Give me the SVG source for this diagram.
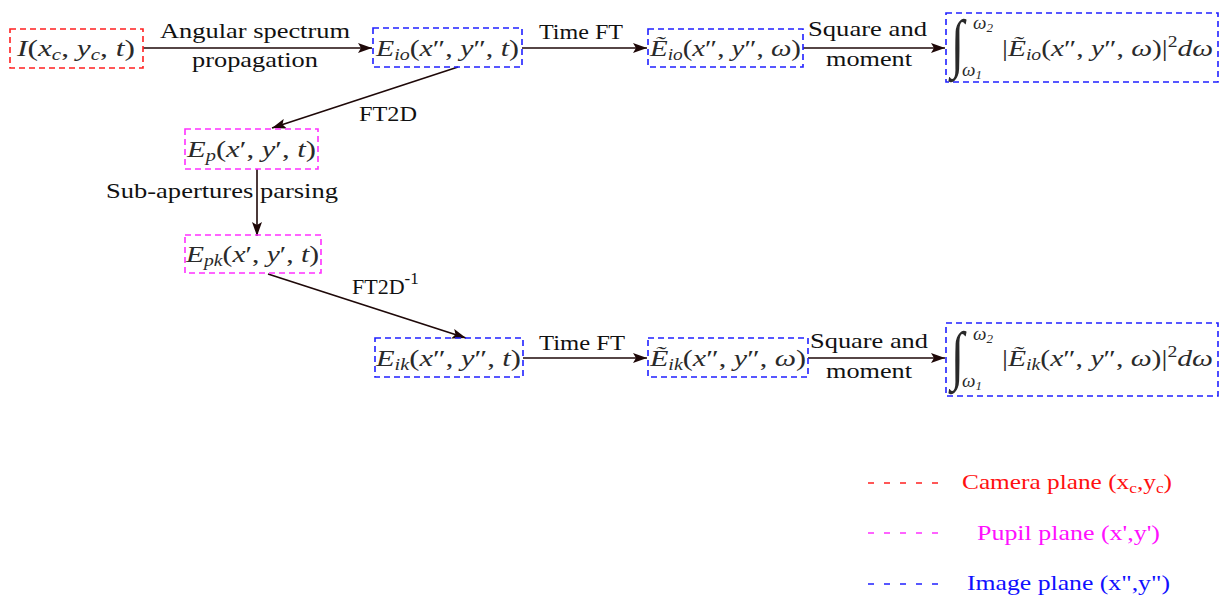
<svg xmlns="http://www.w3.org/2000/svg" width="1220" height="597" viewBox="0 0 1220 597">
<defs>
<marker id="ah" viewBox="0 0 14 10" refX="14" refY="5" markerWidth="14" markerHeight="10" markerUnits="userSpaceOnUse" orient="auto">
<path d="M0,0 L14,5 L0,10 L3,5 Z" fill="#1e0808"/>
</marker>
<style>
.box{fill:none;stroke-width:1.6;stroke-dasharray:6 4}
.cam{stroke:#ff2020}.pup{stroke:#ff30ff}.img{stroke:#2020ff}
.m{font-family:"Liberation Serif",serif;font-size:24px;fill:#2a2a2a}
.i{font-style:italic}
.s{font-size:16px;font-style:italic}
.lbl{font-family:"Liberation Serif",serif;font-size:22px;fill:#111}
.conn{stroke:#1e0808;stroke-width:1.6;fill:none;marker-end:url(#ah)}
.leg{stroke-width:1.5;stroke-dasharray:6 10}
.lt{font-family:"Liberation Serif",serif;font-size:22px}
.int{font-family:"Liberation Serif",serif;fill:#2a2a2a}
</style>
</defs>
<rect width="1220" height="597" fill="#fff"/>

<g id="connectors">
<line class="conn" x1="143" y1="48" x2="372" y2="48"/>
<line class="conn" x1="522" y1="48" x2="647" y2="48"/>
<line class="conn" x1="803" y1="48" x2="945" y2="48"/>
<line class="conn" x1="458" y1="67" x2="272" y2="128"/>
<line class="conn" x1="257" y1="169" x2="257" y2="236"/>
<line class="conn" x1="268" y1="274" x2="466" y2="338"/>
<line class="conn" x1="523" y1="358" x2="647" y2="358"/>
<line class="conn" x1="808" y1="358" x2="945" y2="358"/>
<text class="lbl" x="160" y="38" textLength="190" lengthAdjust="spacingAndGlyphs">Angular spectrum</text>
<text class="lbl" x="192" y="67" textLength="126" lengthAdjust="spacingAndGlyphs">propagation</text>
<text class="lbl" x="539" y="39" textLength="84" lengthAdjust="spacingAndGlyphs">Time FT</text>
<text class="lbl" x="808" y="36" textLength="119" lengthAdjust="spacingAndGlyphs">Square and</text>
<text class="lbl" x="826" y="66" textLength="86" lengthAdjust="spacingAndGlyphs">moment</text>
<text class="lbl" x="359" y="121" textLength="58" lengthAdjust="spacingAndGlyphs">FT2D</text>
<text class="lbl" x="106" y="198" textLength="232" lengthAdjust="spacingAndGlyphs">Sub-apertures parsing</text>
<text class="lbl" x="352" y="294">FT2D<tspan style="font-size:17px" dy="-10">-1</tspan></text>
<text class="lbl" x="539" y="350" textLength="86" lengthAdjust="spacingAndGlyphs">Time FT</text>
<text class="lbl" x="810" y="348" textLength="118" lengthAdjust="spacingAndGlyphs">Square and</text>
<text class="lbl" x="826" y="378" textLength="86" lengthAdjust="spacingAndGlyphs">moment</text>
</g>

<g id="n1">
<rect class="box cam" x="10" y="29" width="133" height="39"/>
<text class="m" x="17" y="56" textLength="118" lengthAdjust="spacingAndGlyphs"><tspan class="i">I</tspan>(<tspan class="i">x</tspan><tspan class="s" dy="4">c</tspan><tspan dy="-4">, </tspan><tspan class="i">y</tspan><tspan class="s" dy="4">c</tspan><tspan dy="-4">, </tspan><tspan class="i">t</tspan>)</text>
</g>

<g id="n2">
<rect class="box img" x="373" y="28" width="149" height="39"/>
<text class="m" x="376" y="56" textLength="143" lengthAdjust="spacingAndGlyphs"><tspan class="i">E</tspan><tspan class="s" dy="4">io</tspan><tspan dy="-4">(</tspan><tspan class="i">x</tspan>″, <tspan class="i">y</tspan>″, <tspan class="i">t</tspan>)</text>
</g>

<g id="n3">
<rect class="box img" x="648" y="29" width="155" height="38"/>
<text class="m" x="650" y="56" textLength="151" lengthAdjust="spacingAndGlyphs"><tspan class="i">Ẽ</tspan><tspan class="s" dy="4">io</tspan><tspan dy="-4">(</tspan><tspan class="i">x</tspan>″, <tspan class="i">y</tspan>″, <tspan class="i">ω</tspan>)</text>
</g>

<g id="n4">
<rect class="box img" x="946" y="13" width="272" height="69"/>
<text class="int" transform="translate(951,65) scale(1,1.35)" style="font-size:48px;font-style:italic">∫</text>
<text class="int" x="973" y="29" style="font-size:19px;font-style:italic">ω<tspan style="font-size:13px" dy="3">2</tspan></text>
<text class="int" x="962" y="76" style="font-size:19px;font-style:italic">ω<tspan style="font-size:13px" dy="3">1</tspan></text>
<text class="m" x="1002" y="56" textLength="211" lengthAdjust="spacingAndGlyphs">|<tspan class="i">Ẽ</tspan><tspan class="s" dy="4">io</tspan><tspan dy="-4">(</tspan><tspan class="i">x</tspan>″, <tspan class="i">y</tspan>″, <tspan class="i">ω</tspan>)|<tspan style="font-size:16px" dy="-9">2</tspan><tspan class="i" dy="9">dω</tspan></text>
</g>

<g id="n5">
<rect class="box pup" x="185" y="129" width="133" height="40"/>
<text class="m" x="187" y="157" textLength="129" lengthAdjust="spacingAndGlyphs"><tspan class="i">E</tspan><tspan class="s" dy="4">p</tspan><tspan dy="-4">(</tspan><tspan class="i">x</tspan>′, <tspan class="i">y</tspan>′, <tspan class="i">t</tspan>)</text>
</g>

<g id="n6">
<rect class="box pup" x="185" y="235" width="136" height="38"/>
<text class="m" x="186" y="262" textLength="133" lengthAdjust="spacingAndGlyphs"><tspan class="i">E</tspan><tspan class="s" dy="4">pk</tspan><tspan dy="-4">(</tspan><tspan class="i">x</tspan>′, <tspan class="i">y</tspan>′, <tspan class="i">t</tspan>)</text>
</g>

<g id="n7">
<rect class="box img" x="375" y="338" width="148" height="39"/>
<text class="m" x="376" y="366" textLength="145" lengthAdjust="spacingAndGlyphs"><tspan class="i">E</tspan><tspan class="s" dy="4">ik</tspan><tspan dy="-4">(</tspan><tspan class="i">x</tspan>″, <tspan class="i">y</tspan>″, <tspan class="i">t</tspan>)</text>
</g>

<g id="n8">
<rect class="box img" x="648" y="338" width="160" height="39"/>
<text class="m" x="650" y="366" textLength="156" lengthAdjust="spacingAndGlyphs"><tspan class="i">Ẽ</tspan><tspan class="s" dy="4">ik</tspan><tspan dy="-4">(</tspan><tspan class="i">x</tspan>″, <tspan class="i">y</tspan>″, <tspan class="i">ω</tspan>)</text>
</g>

<g id="n9">
<rect class="box img" x="946" y="323" width="272" height="73"/>
<text class="int" transform="translate(951,377) scale(1,1.35)" style="font-size:48px;font-style:italic">∫</text>
<text class="int" x="973" y="340" style="font-size:19px;font-style:italic">ω<tspan style="font-size:13px" dy="3">2</tspan></text>
<text class="int" x="962" y="387" style="font-size:19px;font-style:italic">ω<tspan style="font-size:13px" dy="3">1</tspan></text>
<text class="m" x="1002" y="366" textLength="211" lengthAdjust="spacingAndGlyphs">|<tspan class="i">Ẽ</tspan><tspan class="s" dy="4">ik</tspan><tspan dy="-4">(</tspan><tspan class="i">x</tspan>″, <tspan class="i">y</tspan>″, <tspan class="i">ω</tspan>)|<tspan style="font-size:16px" dy="-9">2</tspan><tspan class="i" dy="9">dω</tspan></text>
</g>

<g id="legend">
<line class="leg" x1="868" y1="483" x2="940" y2="483" stroke="#ff2020"/>
<line class="leg" x1="868" y1="533" x2="940" y2="533" stroke="#ff30ff"/>
<line class="leg" x1="868" y1="584" x2="940" y2="584" stroke="#2020ff"/>
<text class="lt" x="962" y="489" fill="#ff1010" textLength="210" lengthAdjust="spacingAndGlyphs">Camera plane (x<tspan style="font-size:15px" dy="4">c</tspan><tspan dy="-4">,y</tspan><tspan style="font-size:15px" dy="4">c</tspan><tspan dy="-4">)</tspan></text>
<text class="lt" x="977" y="540" fill="#ff10ff" textLength="183" lengthAdjust="spacingAndGlyphs">Pupil plane (x',y')</text>
<text class="lt" x="967" y="590" fill="#1010ff" textLength="203" lengthAdjust="spacingAndGlyphs">Image plane (x",y")</text>
</g>
</svg>
